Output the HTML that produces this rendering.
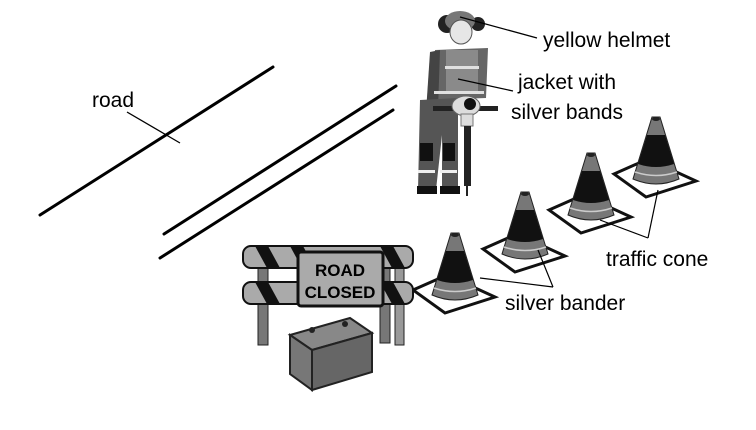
<!DOCTYPE html>
<html><head><meta charset="utf-8"><style>
html,body{margin:0;padding:0;background:#fff;}
svg{display:block;}
text{font-family:"Liberation Sans",Arial,sans-serif;fill:#000;}
</style></head><body>
<svg width="756" height="430" viewBox="0 0 756 430">
<defs>
<g id="cone">
<path d="M-42 57 L-8 42 L40 64 L-10 80 Z" fill="#fff" stroke="#111" stroke-width="3"/>
<path d="M-4 0 L4 0 L23 62 Q0 72 -23 62 Z" fill="#777" stroke="#222"/>
<path d="M-9 18 L9 18 L18 47 Q0 53 -18 47 Z" fill="#111"/>
<path d="M-21 55 Q0 62 21 55" fill="none" stroke="#ccc" stroke-width="1.5"/>
<ellipse cx="0" cy="2" rx="4" ry="2" fill="#222"/>
</g>
</defs>
<rect width="756" height="430" fill="#fff"/>
<g stroke="#000" stroke-width="3" stroke-linecap="round">
<line x1="40" y1="215" x2="273" y2="67"/>
<line x1="164" y1="234" x2="396" y2="86"/>
<line x1="160" y1="258" x2="393" y2="110"/>
</g>
<text x="92" y="107" font-size="21">road</text>
<line x1="127" y1="112" x2="180" y2="143" stroke="#000" stroke-width="1.3"/>

<g>
<circle cx="447" cy="24" r="9" fill="#222"/>
<circle cx="478" cy="24" r="7" fill="#222"/>
<ellipse cx="460" cy="21" rx="15" ry="10" fill="#777"/>
<ellipse cx="461" cy="32" rx="11" ry="12" fill="#e6e6e6" stroke="#555"/>
<path d="M435 50 L488 48 L486 98 L432 100 Z" fill="#666"/>
<path d="M430 52 L440 50 L438 110 L426 112 Z" fill="#444"/>
<path d="M446 50 L478 50 L478 92 L446 94 Z" fill="#8a8a8a"/>
<rect x="445" y="66" width="34" height="3" fill="#e0e0e0"/>
<rect x="434" y="91" width="50" height="3" fill="#e0e0e0"/>
<path d="M420 100 L458 98 L458 190 L442 190 L442 135 L436 190 L418 190 Z" fill="#555"/>
<rect x="420" y="143" width="13" height="18" fill="#111"/>
<rect x="443" y="143" width="12" height="18" fill="#111"/>
<rect x="418" y="170" width="17" height="3" fill="#eee"/>
<rect x="440" y="170" width="17" height="3" fill="#eee"/>
<rect x="417" y="186" width="20" height="8" fill="#111"/>
<rect x="440" y="186" width="20" height="8" fill="#111"/>
<rect x="433" y="106" width="65" height="5" fill="#222"/>
<ellipse cx="466" cy="106" rx="14" ry="10" fill="#ddd" stroke="#666"/>
<circle cx="470" cy="104" r="6" fill="#111"/>
<rect x="461" y="114" width="12" height="12" fill="#ddd" stroke="#777"/>
<rect x="464" y="126" width="7" height="60" fill="#222"/>
<line x1="467" y1="186" x2="467" y2="196" stroke="#222" stroke-width="2"/>
</g>
<line x1="460" y1="17" x2="537" y2="38" stroke="#000" stroke-width="1.3"/>
<line x1="458" y1="79" x2="513" y2="91" stroke="#000" stroke-width="1.3"/>
<text x="543" y="47" font-size="21">yellow helmet</text>
<text x="518" y="89" font-size="21">jacket with</text>
<text x="511" y="119" font-size="21">silver bands</text>

<g>
<use href="#cone" transform="translate(656,117)"/>
<use href="#cone" transform="translate(591,153)"/>
<use href="#cone" transform="translate(525,192)"/>
<use href="#cone" transform="translate(455,233)"/>
</g>
<line x1="480" y1="278" x2="553" y2="287" stroke="#000" stroke-width="1.2"/>
<line x1="538" y1="250" x2="553" y2="287" stroke="#000" stroke-width="1.2"/>
<line x1="600" y1="220" x2="648" y2="238" stroke="#000" stroke-width="1.2"/>
<line x1="658" y1="190" x2="648" y2="238" stroke="#000" stroke-width="1.2"/>
<text x="505" y="310" font-size="21">silver bander</text>
<text x="606" y="266" font-size="21">traffic cone</text>

<g>
<rect x="258" y="250" width="10" height="95" fill="#777" stroke="#222"/>
<rect x="380" y="248" width="10" height="95" fill="#777" stroke="#222"/>
<rect x="395" y="250" width="9" height="95" fill="#999" stroke="#222"/>
<rect x="243" y="246" width="170" height="22" rx="8" fill="#aaa" stroke="#111" stroke-width="2"/>
<rect x="243" y="282" width="170" height="22" rx="8" fill="#aaa" stroke="#111" stroke-width="2"/>
<g fill="#111">
<path d="M255 246 L268 246 L280 268 L267 268 Z"/><path d="M290 246 L303 246 L315 268 L302 268 Z"/>
<path d="M255 282 L268 282 L280 304 L267 304 Z"/><path d="M380 246 L393 246 L405 268 L392 268 Z"/>
<path d="M380 282 L393 282 L405 304 L392 304 Z"/>
</g>
<rect x="298" y="252" width="85" height="54" rx="3" fill="#aaa" stroke="#111" stroke-width="3"/>
<text x="340" y="276" font-size="17" font-weight="bold" text-anchor="middle">ROAD</text>
<text x="340" y="298" font-size="17" font-weight="bold" text-anchor="middle">CLOSED</text>
<path d="M290 335 L350 318 L372 333 L312 350 Z" fill="#888" stroke="#222" stroke-width="2"/>
<path d="M290 335 L312 350 L312 390 L290 374 Z" fill="#777" stroke="#222" stroke-width="2"/>
<path d="M312 350 L372 333 L372 372 L312 390 Z" fill="#666" stroke="#222" stroke-width="2"/>
<circle cx="312" cy="330" r="3" fill="#222"/><circle cx="345" cy="324" r="3" fill="#222"/>
</g>
</svg>
</body></html>
